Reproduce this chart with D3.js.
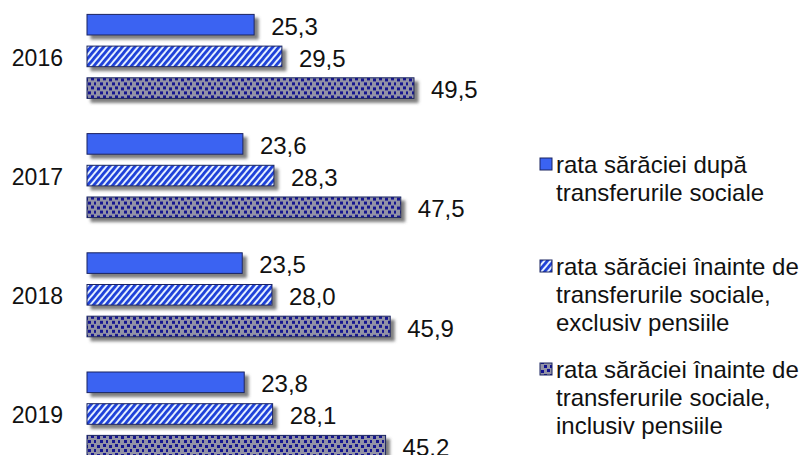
<!DOCTYPE html>
<html>
<head>
<meta charset="utf-8">
<script src="https://cdn.jsdelivr.net/npm/d3@7"></script>
<style>
  body { margin: 0; background: #fff; }
  svg { display: block; }
</style>
</head>
<body>
<div id="viz"></div>
<script>
// date
const years = ["2016", "2017", "2018", "2019"];
const seriesKeys = ["dupa", "exclusiv", "inclusiv"];
const dupaTransferuri = [25.3, 23.6, 23.5, 23.8];
const exclusivPensii = [29.5, 28.3, 28.0, 28.1];
const inclusivPensii = [49.5, 47.5, 45.9, 45.2];
const legendLines = [
  ["rata sărăciei după", "transferurile sociale"],
  ["rata sărăciei înainte de", "transferurile sociale,", "exclusiv pensiile"],
  ["rata sărăciei înainte de", "transferurile sociale,", "inclusiv pensiile"]
];

const width = 812, height = 455;
const values = [dupaTransferuri, exclusivPensii, inclusivPensii];
const fills = ["#3a63f2", "url(#stripes)", "url(#dots)"];
const font = "Liberation Sans, Arial, sans-serif";

const svg = d3.select("#viz")
  .append("svg")
  .attr("width", width)
  .attr("height", height);

const defs = svg.append("defs");

// umbra gri sub bare
const f = defs.append("filter").attr("id", "shadow")
  .attr("x", "-5%").attr("y", "-30%").attr("width", "115%").attr("height", "180%");
f.append("feDropShadow")
  .attr("dx", 4).attr("dy", 4).attr("stdDeviation", 1.6)
  .attr("flood-color", "#555").attr("flood-opacity", 0.75);

// hasura diagonala
const st = defs.append("pattern").attr("id", "stripes")
  .attr("patternUnits", "userSpaceOnUse")
  .attr("width", 4.8).attr("height", 10)
  .attr("patternTransform", "rotate(40)");
st.append("rect").attr("width", 4.8).attr("height", 10).attr("fill", "#e4f0ff");
st.append("rect").attr("width", 2.8).attr("height", 10).attr("fill", "#1d3fd8");

// puncte pe fond gri
const dp = defs.append("pattern").attr("id", "dots")
  .attr("patternUnits", "userSpaceOnUse")
  .attr("width", 12).attr("height", 9);
dp.append("rect").attr("width", 12).attr("height", 9).attr("fill", "#9393a6");
[[1, 1], [7, 0], [4, 5], [10, 5]].forEach(([px, py]) => {
  dp.append("rect").attr("x", px).attr("y", py)
    .attr("width", 3).attr("height", 3).attr("fill", "#121290");
});

const x = d3.scaleLinear().domain([0, 49.5]).range([87, 414]);
const yGroup = d3.scaleBand().domain(years).range([-3.6, 473.2]).paddingInner(0);
const ySeries = d3.scaleBand().domain(seriesKeys).range([18, 102]).paddingInner(0.35);

const groups = svg.selectAll("g.year")
  .data(years)
  .join("g")
  .attr("class", "year")
  .attr("transform", d => `translate(0,${yGroup(d)})`);

groups.append("text")
  .attr("x", 63)
  .attr("y", ySeries("exclusiv") + ySeries.bandwidth() / 2 + 1)
  .attr("dy", "0.36em")
  .attr("text-anchor", "end")
  .attr("font-family", font)
  .attr("font-size", "23px")
  .attr("fill", "#111")
  .text(d => d);

seriesKeys.forEach((k, si) => {
  groups.append("rect")
    .attr("x", x(0))
    .attr("y", ySeries(k))
    .attr("width", (d, i) => x(values[si][i]) - x(0))
    .attr("height", ySeries.bandwidth())
    .attr("fill", fills[si])
    .attr("stroke", "#1a2460")
    .attr("stroke-width", 1)
    .attr("filter", "url(#shadow)");

  groups.append("text")
    .attr("x", (d, i) => x(values[si][i]) + 17)
    .attr("y", ySeries(k) + ySeries.bandwidth() / 2 + 1.5)
    .attr("dy", "0.36em")
    .attr("font-family", font)
    .attr("font-size", "24px")
    .attr("fill", "#111")
    .text((d, i) => values[si][i].toFixed(1).replace(".", ","));
});

// legenda
const legendBase = [173, 275, 378];
const leg = svg.append("g");
legendLines.forEach((lines, li) => {
  leg.append("rect")
    .attr("x", 540).attr("y", legendBase[li] - 15)
    .attr("width", 12).attr("height", 12)
    .attr("fill", fills[li])
    .attr("stroke", "#1a2460")
    .attr("stroke-width", 1);
  lines.forEach((t, j) => {
    leg.append("text")
      .attr("x", 556)
      .attr("y", legendBase[li] + j * 28)
      .attr("font-family", font)
      .attr("font-size", "24px")
      .attr("fill", "#111")
      .text(t);
  });
});
</script>
</body>
</html>
